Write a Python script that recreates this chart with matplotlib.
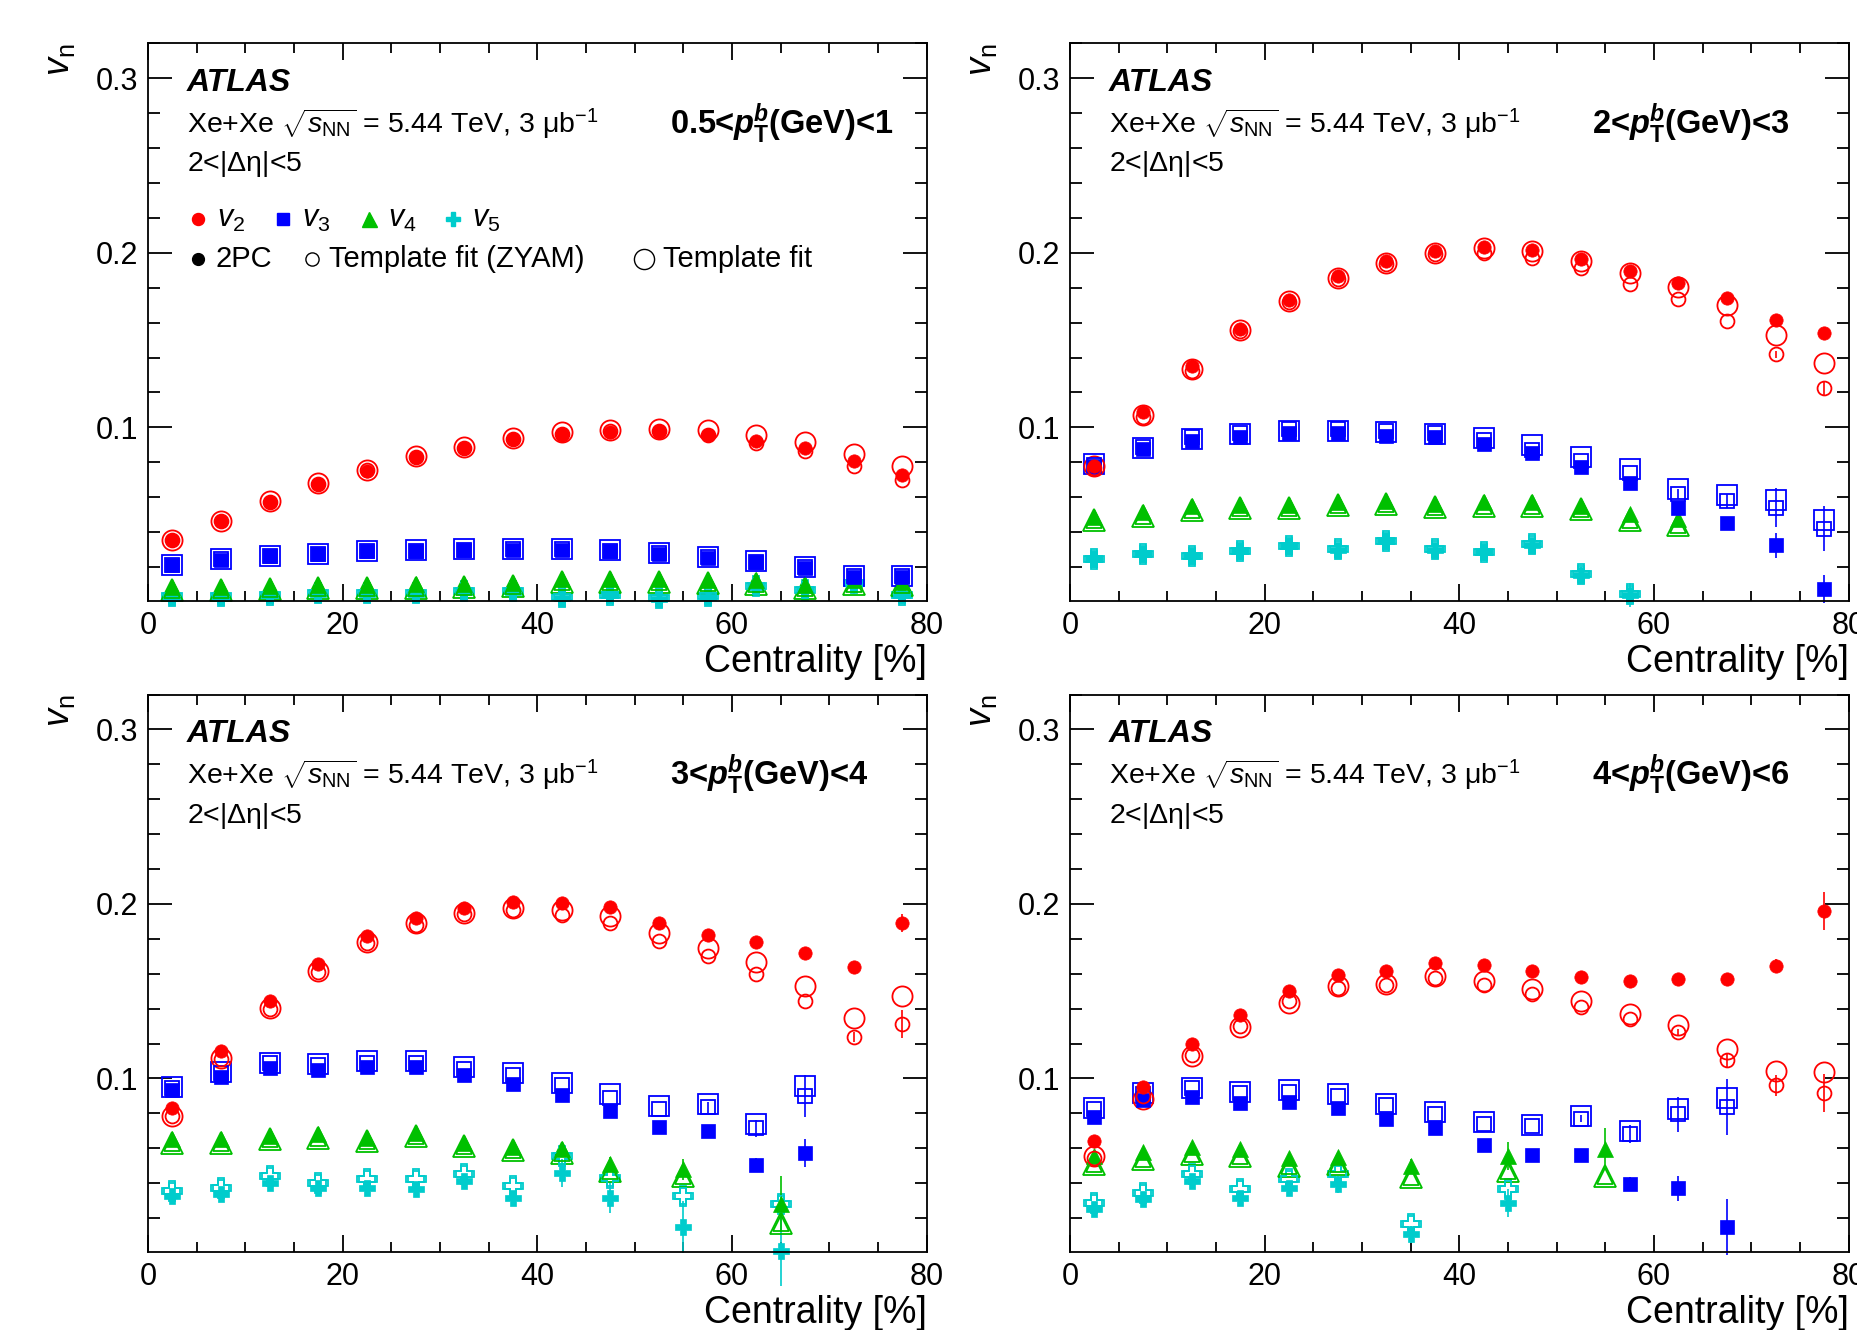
import matplotlib
matplotlib.use('Agg')
import matplotlib.pyplot as plt
from matplotlib.ticker import MultipleLocator, FormatStrFormatter

plt.rcParams['font.family'] = ['Liberation Sans', 'DejaVu Sans']
plt.rcParams['mathtext.fontset'] = 'custom'
plt.rcParams['mathtext.rm'] = 'Liberation Sans'
plt.rcParams['mathtext.it'] = 'Liberation Sans:italic'
plt.rcParams['mathtext.bf'] = 'Liberation Sans:bold'
plt.rcParams['mathtext.bfit'] = 'Liberation Sans:italic:bold'

# centrality bin centres
cent = [2.5, 7.5, 12.5, 17.5, 22.5, 27.5, 32.5, 37.5, 42.5, 47.5, 52.5, 57.5, 62.5, 67.5, 72.5, 77.5]

# ---- panel 1: 0.5 < pT < 1 GeV
p1_v2 = [0.0352, 0.0463, 0.0575, 0.0676, 0.0752, 0.0829, 0.0882, 0.0931, 0.0962, 0.0975, 0.0977, 0.0956, 0.0924, 0.0882, 0.0806, 0.0730]
p1_v2_zyam = [0.0352, 0.0463, 0.0575, 0.0676, 0.0755, 0.0829, 0.0882, 0.0931, 0.0965, 0.0978, 0.0980, 0.0956, 0.0910, 0.0867, 0.0781, 0.0699]
p1_v2_tf = [0.0355, 0.0466, 0.0580, 0.0680, 0.0758, 0.0835, 0.0888, 0.0938, 0.0975, 0.0987, 0.0990, 0.0983, 0.0958, 0.0918, 0.0848, 0.0781]
p1_v3 = [0.0210, 0.0242, 0.0261, 0.0272, 0.0290, 0.0291, 0.0297, 0.0299, 0.0299, 0.0291, 0.0276, 0.0251, 0.0227, 0.0194, 0.0143, 0.0143]
p1_v3_zyam = [0.0212, 0.0244, 0.0263, 0.0275, 0.0292, 0.0294, 0.0300, 0.0302, 0.0302, 0.0294, 0.0280, 0.0255, 0.0231, 0.0198, 0.0147, 0.0147]
p1_v3_tf = [0.0214, 0.0246, 0.0265, 0.0277, 0.0294, 0.0296, 0.0302, 0.0304, 0.0304, 0.0297, 0.0283, 0.0258, 0.0235, 0.0202, 0.0150, 0.0150]
p1_v4 = [0.0085, 0.0088, 0.0090, 0.0095, 0.0098, 0.0100, 0.0105, 0.0107, 0.0133, 0.0133, 0.0133, 0.0124, 0.0124, 0.0095, 0.0124, 0.0114]
p1_v4_tf = [0.0068, 0.0070, 0.0072, 0.0077, 0.0080, 0.0082, 0.0087, 0.0089, 0.0115, 0.0115, 0.0115, 0.0106, 0.0100, 0.0078, 0.0105, 0.0095]
p1_v5 = [0.0029, 0.0029, 0.0038, 0.0048, 0.0048, 0.0048, 0.0057, 0.0057, 0.0025, 0.0038, 0.0019, 0.0029, 0.0086, 0.0067, 0.0105, 0.0038]
p1_v5_err = [0, 0, 0, 0, 0, 0, 0, 0, 0, 0, 0, 0, 0.003, 0.003, 0.006, 0.003]
p1_v5_tf = [0.0032, 0.0032, 0.0040, 0.0050, 0.0050, 0.0050, 0.0060, 0.0060, 0.0028, 0.0040, 0.0022, 0.0032, 0.0090, 0.0070, 0.0110, 0.0040]

# ---- panel 2: 2 < pT < 3 GeV
p2_v2 = [0.0780, 0.1090, 0.1349, 0.1566, 0.1730, 0.1867, 0.1952, 0.2010, 0.2034, 0.2019, 0.1966, 0.1895, 0.1829, 0.1743, 0.1615, 0.1539]
p2_v2_zyam = [0.0770, 0.1060, 0.1325, 0.1550, 0.1718, 0.1850, 0.1935, 0.1995, 0.2000, 0.1971, 0.1914, 0.1823, 0.1733, 0.1610, 0.1419, 0.1223]
p2_v2_zerr = [0, 0, 0, 0, 0, 0, 0, 0, 0, 0, 0, 0, 0, 0, 0.002, 0.004]
p2_v2_tf = [0.0780, 0.1070, 0.1333, 0.1556, 0.1724, 0.1857, 0.1943, 0.2000, 0.2029, 0.2013, 0.1956, 0.1886, 0.1804, 0.1701, 0.1528, 0.1368]
p2_v3 = [0.0781, 0.0876, 0.0924, 0.0943, 0.0968, 0.0966, 0.0952, 0.0943, 0.0905, 0.0853, 0.0775, 0.0684, 0.0539, 0.0450, 0.0324, 0.0072]
p2_v3_err = [0, 0, 0, 0, 0, 0, 0, 0, 0, 0, 0, 0, 0.002, 0.002, 0.007, 0.008]
p2_v3_zyam = [0.0785, 0.0890, 0.0945, 0.0970, 0.0990, 0.0990, 0.0980, 0.0970, 0.0930, 0.0870, 0.0810, 0.0740, 0.0619, 0.0577, 0.0540, 0.0420]
p2_v3_zerr = [0, 0, 0, 0, 0, 0, 0, 0, 0, 0, 0, 0, 0.003, 0.004, 0.011, 0.013]
p2_v3_tf = [0.0790, 0.0880, 0.0933, 0.0962, 0.0981, 0.0981, 0.0975, 0.0962, 0.0939, 0.0897, 0.0830, 0.0762, 0.0648, 0.0611, 0.0583, 0.0470]
p2_x4 = cent[:13]
p2_v4 = [0.0486, 0.0514, 0.0547, 0.0556, 0.0556, 0.0575, 0.0581, 0.0562, 0.0571, 0.0571, 0.0552, 0.0505, 0.0476]
p2_v4_tf = [0.0467, 0.0495, 0.0528, 0.0537, 0.0537, 0.0556, 0.0562, 0.0543, 0.0552, 0.0552, 0.0533, 0.0467, 0.0438]
p2_x5 = cent[:12]
p2_v5 = [0.0244, 0.0272, 0.0263, 0.0291, 0.0320, 0.0300, 0.0349, 0.0300, 0.0286, 0.0328, 0.0152, 0.0038]
p2_v5_err = [0, 0, 0, 0, 0, 0, 0, 0, 0, 0.002, 0.005, 0.007]
p2_v5_tf = [0.0246, 0.0274, 0.0265, 0.0293, 0.0322, 0.0302, 0.0351, 0.0302, 0.0288, 0.0330, 0.0160, 0.0045]

# ---- panel 3: 3 < pT < 4 GeV
p3_v2 = [0.0832, 0.1160, 0.1443, 0.1653, 0.1815, 0.1920, 0.1977, 0.2010, 0.2006, 0.1981, 0.1891, 0.1824, 0.1781, 0.1716, 0.1639, 0.1891]
p3_v2_err = [0, 0, 0, 0, 0, 0, 0, 0, 0, 0, 0, 0, 0, 0, 0.002, 0.005]
p3_v2_zyam = [0.0784, 0.1110, 0.1400, 0.1610, 0.1775, 0.1880, 0.1940, 0.1965, 0.1939, 0.1891, 0.1790, 0.1700, 0.1601, 0.1443, 0.1237, 0.1313]
p3_v2_zerr = [0, 0, 0, 0, 0, 0, 0, 0, 0, 0, 0, 0, 0, 0, 0.003, 0.008]
p3_v2_tf = [0.0784, 0.1118, 0.1405, 0.1618, 0.1782, 0.1891, 0.1948, 0.1977, 0.1968, 0.1933, 0.1834, 0.1748, 0.1668, 0.1532, 0.1344, 0.1471]
p3_x3 = cent[:14]
p3_v3 = [0.0933, 0.1010, 0.1059, 0.1048, 0.1063, 0.1063, 0.1021, 0.0969, 0.0905, 0.0811, 0.0723, 0.0700, 0.0504, 0.0571]
p3_v3_err = [0, 0, 0, 0, 0, 0, 0, 0, 0, 0, 0, 0.002, 0.004, 0.008]
p3_v3_zyam = [0.0945, 0.1032, 0.1086, 0.1076, 0.1090, 0.1090, 0.1052, 0.1017, 0.0962, 0.0889, 0.0826, 0.0834, 0.0714, 0.0897]
p3_v3_zerr = [0, 0, 0, 0, 0, 0, 0, 0, 0, 0, 0, 0.003, 0.005, 0.012]
p3_v3_tf = [0.0952, 0.1034, 0.1088, 0.1082, 0.1100, 0.1101, 0.1067, 0.1030, 0.0975, 0.0908, 0.0842, 0.0851, 0.0737, 0.0956]
p3_x45 = [2.5, 7.5, 12.5, 17.5, 22.5, 27.5, 32.5, 37.5, 42.5, 47.5, 55, 65]
p3_v4 = [0.0651, 0.0651, 0.0670, 0.0679, 0.0660, 0.0689, 0.0632, 0.0607, 0.0594, 0.0508, 0.0479, 0.0279]
p3_v4_err = [0, 0, 0, 0, 0, 0, 0, 0, 0.003, 0.004, 0.006, 0.016]
p3_v4_tf = [0.0632, 0.0632, 0.0651, 0.0660, 0.0641, 0.0670, 0.0613, 0.0588, 0.0574, 0.0470, 0.0441, 0.0174]
p3_v5 = [0.0326, 0.0340, 0.0403, 0.0374, 0.0374, 0.0364, 0.0412, 0.0317, 0.0460, 0.0317, 0.0149, 0.0011]
p3_v5_err = [0.002, 0.002, 0.002, 0.002, 0.002, 0.002, 0.003, 0.004, 0.008, 0.009, 0.015, 0.020]
p3_v5_tf = [0.0355, 0.0374, 0.0441, 0.0403, 0.0422, 0.0422, 0.0450, 0.0384, 0.0555, 0.0431, 0.0326, 0.0279]

# ---- panel 4: 4 < pT < 6 GeV
p4_v2 = [0.0641, 0.0950, 0.1195, 0.1363, 0.1500, 0.1595, 0.1615, 0.1662, 0.1649, 0.1618, 0.1582, 0.1557, 0.1567, 0.1567, 0.1643, 0.1958]
p4_v2_err = [0, 0, 0, 0, 0, 0, 0, 0, 0, 0, 0, 0.001, 0.001, 0.002, 0.004, 0.011]
p4_v2_zyam = [0.0546, 0.0899, 0.1137, 0.1303, 0.1443, 0.1519, 0.1538, 0.1576, 0.1538, 0.1481, 0.1408, 0.1338, 0.1265, 0.1105, 0.0962, 0.0918]
p4_v2_zerr = [0, 0, 0, 0, 0, 0, 0, 0, 0, 0, 0, 0, 0.002, 0.004, 0.006, 0.011]
p4_v2_tf = [0.0555, 0.0880, 0.1128, 0.1294, 0.1433, 0.1529, 0.1542, 0.1586, 0.1561, 0.1510, 0.1443, 0.1370, 0.1309, 0.1170, 0.1042, 0.1038]
p4_x3 = cent[:14]
p4_v3 = [0.0780, 0.0876, 0.0895, 0.0861, 0.0863, 0.0832, 0.0765, 0.0714, 0.0618, 0.0561, 0.0561, 0.0393, 0.0370, 0.0151]
p4_v3_err = [0, 0, 0, 0, 0, 0, 0, 0, 0, 0, 0.002, 0.004, 0.007, 0.016]
p4_v3_zyam = [0.0822, 0.0912, 0.0945, 0.0918, 0.0924, 0.0899, 0.0845, 0.0798, 0.0739, 0.0725, 0.0769, 0.0681, 0.0794, 0.0834]
p4_v3_zerr = [0, 0, 0, 0, 0, 0, 0, 0, 0, 0, 0.002, 0.005, 0.010, 0.016]
p4_v3_tf = [0.0828, 0.0918, 0.0948, 0.0924, 0.0933, 0.0910, 0.0853, 0.0805, 0.0750, 0.0735, 0.0782, 0.0697, 0.0822, 0.0885]
p4_x4 = [2.5, 7.5, 12.5, 17.5, 22.5, 27.5, 35, 45, 55]
p4_v4 = [0.0555, 0.0578, 0.0607, 0.0594, 0.0542, 0.0550, 0.0498, 0.0555, 0.0594]
p4_v4_err = [0.002, 0.002, 0.002, 0.002, 0.002, 0.003, 0.004, 0.008, 0.012]
p4_v4_tf = [0.0508, 0.0536, 0.0565, 0.0555, 0.0498, 0.0508, 0.0435, 0.0470, 0.0441]
p4_x5 = [2.5, 7.5, 12.5, 17.5, 22.5, 27.5, 35, 45]
p4_v5 = [0.0250, 0.0307, 0.0412, 0.0317, 0.0374, 0.0393, 0.0107, 0.0288]
p4_v5_err = [0.003, 0.003, 0.003, 0.004, 0.004, 0.005, 0.005, 0.008]
p4_v5_tf = [0.0288, 0.0345, 0.0450, 0.0364, 0.0422, 0.0450, 0.0164, 0.0364]

pt_labels = [r'0.5<$\mathbfit{p}_{\mathbf{T}}^{\mathbfit{b}}$(GeV)<1',
             r'2<$\mathbfit{p}_{\mathbf{T}}^{\mathbfit{b}}$(GeV)<3',
             r'3<$\mathbfit{p}_{\mathbf{T}}^{\mathbfit{b}}$(GeV)<4',
             r'4<$\mathbfit{p}_{\mathbf{T}}^{\mathbfit{b}}$(GeV)<6']

RED, BLUE, GREEN, CYAN = '#ff0000', '#0000ff', '#00c000', '#00cccc'

# (x, 2PC, 2PC err, ZYAM, ZYAM err, template fit, colour, marker)
panels = [
    [(cent, p1_v2, None, p1_v2_zyam, None, p1_v2_tf, RED, 'o'),
     (cent, p1_v3, None, p1_v3_zyam, None, p1_v3_tf, BLUE, 's'),
     (cent, p1_v4, None, p1_v4_tf, None, p1_v4_tf, GREEN, '^'),
     (cent, p1_v5, p1_v5_err, p1_v5_tf, None, p1_v5_tf, CYAN, 'P')],
    [(cent, p2_v2, None, p2_v2_zyam, p2_v2_zerr, p2_v2_tf, RED, 'o'),
     (cent, p2_v3, p2_v3_err, p2_v3_zyam, p2_v3_zerr, p2_v3_tf, BLUE, 's'),
     (p2_x4, p2_v4, None, p2_v4_tf, None, p2_v4_tf, GREEN, '^'),
     (p2_x5, p2_v5, p2_v5_err, p2_v5_tf, None, p2_v5_tf, CYAN, 'P')],
    [(cent, p3_v2, p3_v2_err, p3_v2_zyam, p3_v2_zerr, p3_v2_tf, RED, 'o'),
     (p3_x3, p3_v3, p3_v3_err, p3_v3_zyam, p3_v3_zerr, p3_v3_tf, BLUE, 's'),
     (p3_x45, p3_v4, p3_v4_err, p3_v4_tf, None, p3_v4_tf, GREEN, '^'),
     (p3_x45, p3_v5, p3_v5_err, p3_v5_tf, None, p3_v5_tf, CYAN, 'P')],
    [(cent, p4_v2, p4_v2_err, p4_v2_zyam, p4_v2_zerr, p4_v2_tf, RED, 'o'),
     (p4_x3, p4_v3, p4_v3_err, p4_v3_zyam, p4_v3_zerr, p4_v3_tf, BLUE, 's'),
     (p4_x4, p4_v4, p4_v4_err, p4_v4_tf, None, p4_v4_tf, GREEN, '^'),
     (p4_x5, p4_v5, p4_v5_err, p4_v5_tf, None, p4_v5_tf, CYAN, 'P')],
]

# marker sizes (filled, small open, large open)
SIZES = {'o': (9.6, 10.0, 14.5), 's': (9.6, 10.0, 14.0), '^': (12.0, 12.0, 15.5), 'P': (11.0, 11.0, 14.0)}

fig = plt.figure(figsize=(18.57, 13.30), dpi=100)
boxes = [(0.0797, 0.5481), (0.5762, 0.5481), (0.0797, 0.0586), (0.5762, 0.0586)]
W, H = 0.4193, 0.4192

for i, (x0, y0) in enumerate(boxes):
    ax = fig.add_axes([x0, y0, W, H])
    for x, v, ve, vz, vze, vt, col, m in reversed(panels[i]):
        s_f, s_z, s_t = SIZES[m]
        ax.plot(x, vt, ls='none', marker=m, ms=s_t, mfc='none', mec=col, mew=1.3, clip_on=False)
        ax.errorbar(x, vz, yerr=vze, fmt=m, ms=s_z, mfc='none', mec=col, mew=1.3, ecolor=col,
                    elinewidth=1.2, capsize=0, clip_on=False)
        ax.errorbar(x, v, yerr=ve, fmt=m, ms=s_f, mfc=col, mec=col, mew=0.5, ecolor=col,
                    elinewidth=1.2, capsize=0, clip_on=False)

    ax.set_xlim(0, 80)
    ax.set_ylim(0.0005, 0.32)
    ax.set_xticks([0, 20, 40, 60, 80])
    ax.xaxis.set_minor_locator(MultipleLocator(5))
    ax.set_yticks([0.1, 0.2, 0.3])
    ax.yaxis.set_major_formatter(FormatStrFormatter('%.1f'))
    ax.yaxis.set_minor_locator(MultipleLocator(0.02))
    ax.tick_params(which='both', direction='in', top=True, right=True, width=1.3, labelsize=22, pad=7)
    ax.tick_params(axis='y', which='major', length=17)
    ax.tick_params(axis='y', which='minor', length=8.5)
    ax.tick_params(axis='x', which='major', length=12)
    ax.tick_params(axis='x', which='minor', length=7)
    for sp in ax.spines.values():
        sp.set_linewidth(1.3)

    ax.text(-0.114, 1.0, r'$v_{\mathrm{n}}$', rotation=90, ha='center', va='top', fontsize=26, transform=ax.transAxes)
    ax.text(1.0, -0.11, 'Centrality [%]', ha='right', va='center', fontsize=27, transform=ax.transAxes)

    ax.text(0.05, 0.929, 'ATLAS', fontweight='bold', style='italic', fontsize=23, va='center', transform=ax.transAxes)
    ax.text(0.05, 0.856, r'Xe+Xe $\sqrt{s_{\mathrm{NN}}}$ = 5.44 TeV, 3 $\mathrm{\mu}$b$^{\mathrm{-1}}$',
            fontsize=20.5, va='center', transform=ax.transAxes)
    ax.text(0.05, 0.783, r'2<|$\mathrm{\Delta\eta}$|<5', fontsize=20.5, va='center', transform=ax.transAxes)
    ax.text(0.671, 0.856, pt_labels[i], fontsize=23.5, fontweight='bold', va='center', transform=ax.transAxes)

    if i == 0:
        ty1, ty2 = 0.686, 0.613
        tr = ax.transAxes
        for (mx, tx, col, m, lab) in [(0.064, 0.0886, RED, 'o', r'$v_{2}$'),
                                      (0.173, 0.198, BLUE, 's', r'$v_{3}$'),
                                      (0.284, 0.308, GREEN, '^', r'$v_{4}$'),
                                      (0.392, 0.416, CYAN, 'P', r'$v_{5}$')]:
            ax.plot([mx], [ty1], marker=m, ms=SIZES[m][0] * 0.9, color=col, transform=tr, clip_on=False)
            ax.text(tx, ty1, lab, fontsize=22, va='center', transform=tr)
        ax.plot([0.064], [ty2], marker='o', ms=8.5, color='black', transform=tr)
        ax.text(0.087, ty2, '2PC', fontsize=21, va='center', transform=tr)
        ax.plot([0.2105], [ty2], marker='o', ms=9.5, mfc='none', mec='black', mew=1.0, transform=tr)
        ax.text(0.2324, ty2, 'Template fit (ZYAM)', fontsize=21, va='center', transform=tr)
        ax.plot([0.637], [ty2], marker='o', ms=14.5, mfc='none', mec='black', mew=1.0, transform=tr)
        ax.text(0.661, ty2, 'Template fit', fontsize=21, va='center', transform=tr)

fig.savefig('out.png', dpi=100)
